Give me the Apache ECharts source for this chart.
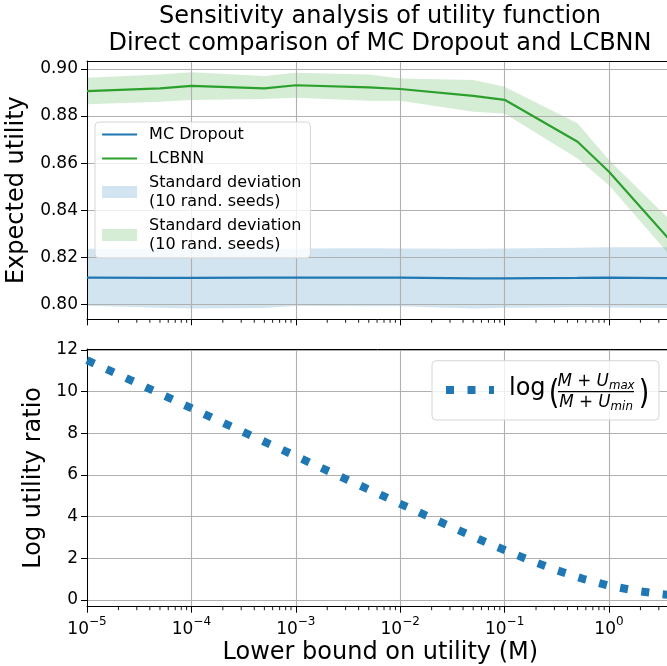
<!DOCTYPE html>
<html><head><meta charset="utf-8">
<script src="https://cdn.jsdelivr.net/npm/echarts@6/dist/echarts.min.js"></script>
<style>html,body{margin:0;padding:0;background:#fff}#c{width:667px;height:666px}</style>
</head><body><div id="c"></div>
<script>
// ---------- data ----------
const M = [1e-5, 5e-5, 1e-4, 5e-4, 1e-3, 5e-3, 1e-2, 5e-2, 1e-1, 5e-1, 1, 5];
const mcMean  = [0.8113, 0.8112, 0.8112, 0.8113, 0.8113, 0.8113, 0.8113, 0.8110, 0.8110, 0.8112, 0.8113, 0.8111];
const mcUpper = [0.8236, 0.8234, 0.8235, 0.8236, 0.8237, 0.8238, 0.8237, 0.8236, 0.8237, 0.8240, 0.8242, 0.8242];
const mcLower = [0.7994, 0.7985, 0.7982, 0.7984, 0.7993, 0.7992, 0.7991, 0.7982, 0.7985, 0.7987, 0.7986, 0.7984];
const lcMean  = [0.8906, 0.8918, 0.8928, 0.8918, 0.8931, 0.8922, 0.8915, 0.8886, 0.8869, 0.8691, 0.8563, 0.8215];
const lcUpper = [0.8963, 0.8977, 0.8986, 0.8970, 0.8984, 0.8977, 0.8960, 0.8953, 0.8925, 0.8769, 0.8613, 0.8309];
const lcLower = [0.8850, 0.8861, 0.8868, 0.8872, 0.8878, 0.8865, 0.8865, 0.8818, 0.8811, 0.8620, 0.8506, 0.8149];

const ratioM   = [1e-5, 1.778e-5, 3.162e-5, 5.623e-5, 1e-4, 1.778e-4, 3.162e-4, 5.623e-4, 1e-3, 1.778e-3, 3.162e-3, 5.623e-3,
                  1e-2, 1.778e-2, 3.162e-2, 5.623e-2, 0.1, 0.1778, 0.3162, 0.5623, 1, 1.778, 3.162, 5.623];
const ratioVal = [11.51, 10.94, 10.36, 9.79, 9.21, 8.63, 8.06, 7.48, 6.91, 6.33, 5.76, 5.19,
                  4.62, 4.05, 3.49, 2.93, 2.40, 1.89, 1.43, 1.02, 0.69, 0.45, 0.28, 0.16];

const yTicksTop = [0.80, 0.82, 0.84, 0.86, 0.88, 0.90];
const yTicksBottom = [0, 2, 4, 6, 8, 10, 12];
const minorDecades = [1e-5, 1e-4, 1e-3, 1e-2, 1e-1, 1];
const minorMultipliers = [2, 3, 4, 5, 6, 7, 8, 9];

const titleLines = ['Sensitivity analysis of utility function', 'Direct comparison of MC Dropout and LCBNN'];
const sdLabel = 'Standard deviation\n(10 rand. seeds)';
const xName = 'Lower bound on utility (M)';

// ---------- layout / style ----------
const FONT = 'DejaVu Sans';
const X_MIN = 1e-5, X_MAX = 4.166;
const TOP_Y = [0.7936, 0.9034];
const BOT_Y = [-0.32, 12.048];
const BLUE = '#1f77b4', GREEN = '#2ca02c';
const BLUE_A = 'rgba(31,119,180,0.2)', GREEN_A = 'rgba(44,160,44,0.2)';
const GRIDC = '#b0b0b0';

const minorTicks = [];
minorDecades.forEach(d => minorMultipliers.forEach(m => minorTicks.push(m * d)));

function logLabel(v) {
  const e = Math.round(Math.log10(v));
  return '{b|10}{s|' + (e < 0 ? '\u2212' : '') + Math.abs(e) + '}';
}

function mainX(gi, showLabel) {
  const ax = {
    type: 'log', logBase: 10, gridIndex: gi, min: X_MIN, max: X_MAX, z: 5,
    axisLine: {show: false, onZero: false},
    axisTick: {show: true, length: 6, inside: false, lineStyle: {color: '#000', width: 1}},
    splitLine: {show: true, lineStyle: {color: GRIDC, width: 1.1}},
    minorTick: {show: false}, minorSplitLine: {show: false},
    axisLabel: {
      show: showLabel, margin: 9, showMaxLabel: false, showMinLabel: true,
      formatter: logLabel, color: '#000', fontFamily: FONT,
      rich: {
        b: {fontSize: 17, lineHeight: 22, verticalAlign: 'bottom', fontFamily: FONT, color: '#000'},
        s: {fontSize: 12, lineHeight: 12, verticalAlign: 'top', fontFamily: FONT, color: '#000'}
      }
    }
  };
  if (showLabel) {
    ax.name = xName; ax.nameLocation = 'middle'; ax.nameGap = 34;
    ax.nameTextStyle = {fontSize: 24, color: '#000', fontFamily: FONT};
  }
  return ax;
}
function helperX(gi, pos) {
  return {
    type: 'log', logBase: 10, gridIndex: gi, min: X_MIN, max: X_MAX, position: pos, z: 8,
    axisLine: {show: true, onZero: false, lineStyle: {color: '#000', width: 1}},
    axisTick: {show: false}, axisLabel: {show: false}, splitLine: {show: false}
  };
}
function mainY(gi, ext, ticks, fmt, name, gap) {
  return {
    type: 'value', gridIndex: gi, min: ext[0], max: ext[1], z: 5,
    axisLine: {show: false, onZero: false},
    axisTick: {show: true, length: 6, customValues: ticks, lineStyle: {color: '#000', width: 1}},
    axisLabel: {customValues: ticks, formatter: fmt, fontSize: 17, color: '#000', fontFamily: FONT, margin: 9,
                showMinLabel: true, showMaxLabel: true},
    splitLine: {show: true, lineStyle: {color: GRIDC, width: 1.1}},
    name: name, nameLocation: 'middle', nameGap: gap,
    nameTextStyle: {fontSize: 24, color: '#000', fontFamily: FONT}
  };
}
function helperY(gi, ext) {
  return {
    type: 'value', gridIndex: gi, min: ext[0], max: ext[1], position: 'left', z: 8,
    axisLine: {show: true, onZero: false, lineStyle: {color: '#000', width: 1}},
    axisTick: {show: false}, axisLabel: {show: false}, splitLine: {show: false}
  };
}
function minorTickSeries(xi, yi, yMin) {
  return {
    type: 'custom', xAxisIndex: xi, yAxisIndex: yi, silent: true, z: 10, clip: false,
    data: minorTicks.filter(v => v <= X_MAX).map(v => [v, yMin]),
    renderItem: (params, api) => {
      const p = api.coord([api.value(0), api.value(1)]);
      return {type: 'line', shape: {x1: p[0], y1: p[1], x2: p[0], y2: p[1] + 3.5},
              style: {stroke: '#000', lineWidth: 0.9}};
    }
  };
}
function bandSeries(name, upper, lower, color) {
  return {
    name: name, type: 'custom', xAxisIndex: 0, yAxisIndex: 0, silent: true, z: 2, clip: true,
    itemStyle: {color: color},
    data: [[M[0], upper[0]]],
    renderItem: (params, api) => {
      const pts = M.map((x, i) => api.coord([x, upper[i]]));
      for (let i = M.length - 1; i >= 0; i--) pts.push(api.coord([M[i], lower[i]]));
      const cs = params.coordSys;
      return {type: 'polygon', shape: {points: pts}, style: {fill: color, stroke: null},
              clipPath: {type: 'rect', shape: {x: cs.x, y: cs.y, width: cs.width, height: cs.height}}};
    }
  };
}
const pairs = (xs, ys) => xs.map((x, i) => [x, ys[i]]);

const chart = echarts.init(document.getElementById('c'));
chart.setOption({
  animation: false,
  backgroundColor: '#fff',
  textStyle: {fontFamily: FONT},
  title: {
    text: titleLines.join('\n'), left: 380, top: 3, textAlign: 'center', padding: 0,
    textStyle: {fontSize: 24, lineHeight: 27, fontWeight: 'normal', color: '#000', fontFamily: FONT}
  },
  grid: [
    {left: 87, top: 61, width: 586.7, height: 258.3, outerBoundsMode: 'none', containLabel: false},
    {left: 87, top: 349, width: 586.7, height: 257.7, outerBoundsMode: 'none', containLabel: false}
  ],
  xAxis: [
    mainX(0, false), mainX(1, true),
    helperX(0, 'top'), helperX(0, 'bottom'), helperX(1, 'top'), helperX(1, 'bottom')
  ],
  yAxis: [
    mainY(0, TOP_Y, yTicksTop, v => v.toFixed(2), 'Expected utility', 47),
    mainY(1, BOT_Y, yTicksBottom, v => String(Math.round(v)), 'Log utility ratio', 35),
    helperY(0, TOP_Y), helperY(1, BOT_Y)
  ],
  legend: [
    {
      left: 95, top: 122, orient: 'vertical', z: 20,
      padding: [3, 9, 4, 6], itemGap: 5, itemWidth: 35, itemHeight: 12,
      backgroundColor: 'rgba(255,255,255,0.8)', borderColor: '#d6d6d6', borderWidth: 1, borderRadius: 4,
      textStyle: {fontSize: 16, lineHeight: 19, color: '#000', fontFamily: FONT, padding: [0, 0, 0, 7]},
      formatter: n => (n === 'sd_mc' || n === 'sd_lc') ? sdLabel : n,
      selectedMode: false,
      data: [
        {name: 'MC Dropout', itemStyle: {opacity: 0}, lineStyle: {width: 2.2, color: BLUE}},
        {name: 'LCBNN', itemStyle: {opacity: 0}, lineStyle: {width: 2.2, color: GREEN}},
        {name: 'sd_mc', icon: 'rect', itemStyle: {color: BLUE_A, borderWidth: 0}},
        {name: 'sd_lc', icon: 'rect', itemStyle: {color: GREEN_A, borderWidth: 0}}
      ]
    },
    {
      left: 442, top: 386, orient: 'vertical', z: 20,
      padding: 0, itemWidth: 48, itemHeight: 8,
      selectedMode: false,
      formatter: () => '',
      data: [{name: 'ratio', itemStyle: {opacity: 0}, lineStyle: {width: 8, type: [8, 13.5], cap: 'butt', color: BLUE}}]
    }
  ],
  series: [
    bandSeries('sd_mc', mcUpper, mcLower, BLUE_A),
    bandSeries('sd_lc', lcUpper, lcLower, GREEN_A),
    {name: 'MC Dropout', type: 'line', xAxisIndex: 0, yAxisIndex: 0, symbol: 'none', z: 10,
     lineStyle: {color: BLUE, width: 2.2}, itemStyle: {color: BLUE}, data: pairs(M, mcMean)},
    {name: 'LCBNN', type: 'line', xAxisIndex: 0, yAxisIndex: 0, symbol: 'none', z: 10,
     lineStyle: {color: GREEN, width: 2.2}, itemStyle: {color: GREEN}, data: pairs(M, lcMean)},
    {name: 'ratio', type: 'line', xAxisIndex: 1, yAxisIndex: 1, symbol: 'none', z: 10,
     lineStyle: {color: BLUE, width: 8, type: [8, 13.5], cap: 'butt'}, itemStyle: {color: BLUE},
     data: pairs(ratioM, ratioVal)},
    minorTickSeries(0, 0, TOP_Y[0]),
    minorTickSeries(1, 1, BOT_Y[0])
  ],
  graphic: [
    {type: 'rect', z: 15, shape: {x: 432, y: 360.7, width: 227, height: 59.3, r: 4},
     style: {fill: 'rgba(255,255,255,0.8)', stroke: '#d6d6d6', lineWidth: 1}},
    {type: 'text', z: 30, x: 509, y: 389, style: {text: 'log', fontSize: 24, fontFamily: FONT, fill: '#000',
      align: 'left', verticalAlign: 'middle'}},
    {type: 'text', z: 30, x: 554, y: 395, scaleX: 0.8, style: {text: '(', fontSize: 34, fontFamily: FONT, fill: '#000',
      align: 'center', verticalAlign: 'middle'}},
    {type: 'text', z: 30, x: 644, y: 395, scaleX: 0.8, style: {text: ')', fontSize: 34, fontFamily: FONT, fill: '#000',
      align: 'center', verticalAlign: 'middle'}},
    {type: 'text', z: 30, x: 596, y: 382, style: {
      text: '{i|M}{r| + }{i|U}{s|max}', align: 'center', verticalAlign: 'middle', fill: '#000',
      rich: {
        i: {fontSize: 16.8, fontStyle: 'italic', fontFamily: FONT, lineHeight: 20, verticalAlign: 'middle', fill: '#000'},
        r: {fontSize: 16.8, fontFamily: FONT, lineHeight: 20, verticalAlign: 'middle', fill: '#000'},
        s: {fontSize: 11.8, fontStyle: 'italic', fontFamily: FONT, lineHeight: 10, verticalAlign: 'bottom', fill: '#000'}
      }}},
    {type: 'line', z: 30, shape: {x1: 558, y1: 391.7, x2: 634, y2: 391.7}, style: {stroke: '#000', lineWidth: 1.2}},
    {type: 'text', z: 30, x: 596, y: 402.5, style: {
      text: '{i|M}{r| + }{i|U}{s|min}', align: 'center', verticalAlign: 'middle', fill: '#000',
      rich: {
        i: {fontSize: 16.8, fontStyle: 'italic', fontFamily: FONT, lineHeight: 20, verticalAlign: 'middle', fill: '#000'},
        r: {fontSize: 16.8, fontFamily: FONT, lineHeight: 20, verticalAlign: 'middle', fill: '#000'},
        s: {fontSize: 11.8, fontStyle: 'italic', fontFamily: FONT, lineHeight: 10, verticalAlign: 'bottom', fill: '#000'}
      }}}
  ]
});
</script>
</body></html>
